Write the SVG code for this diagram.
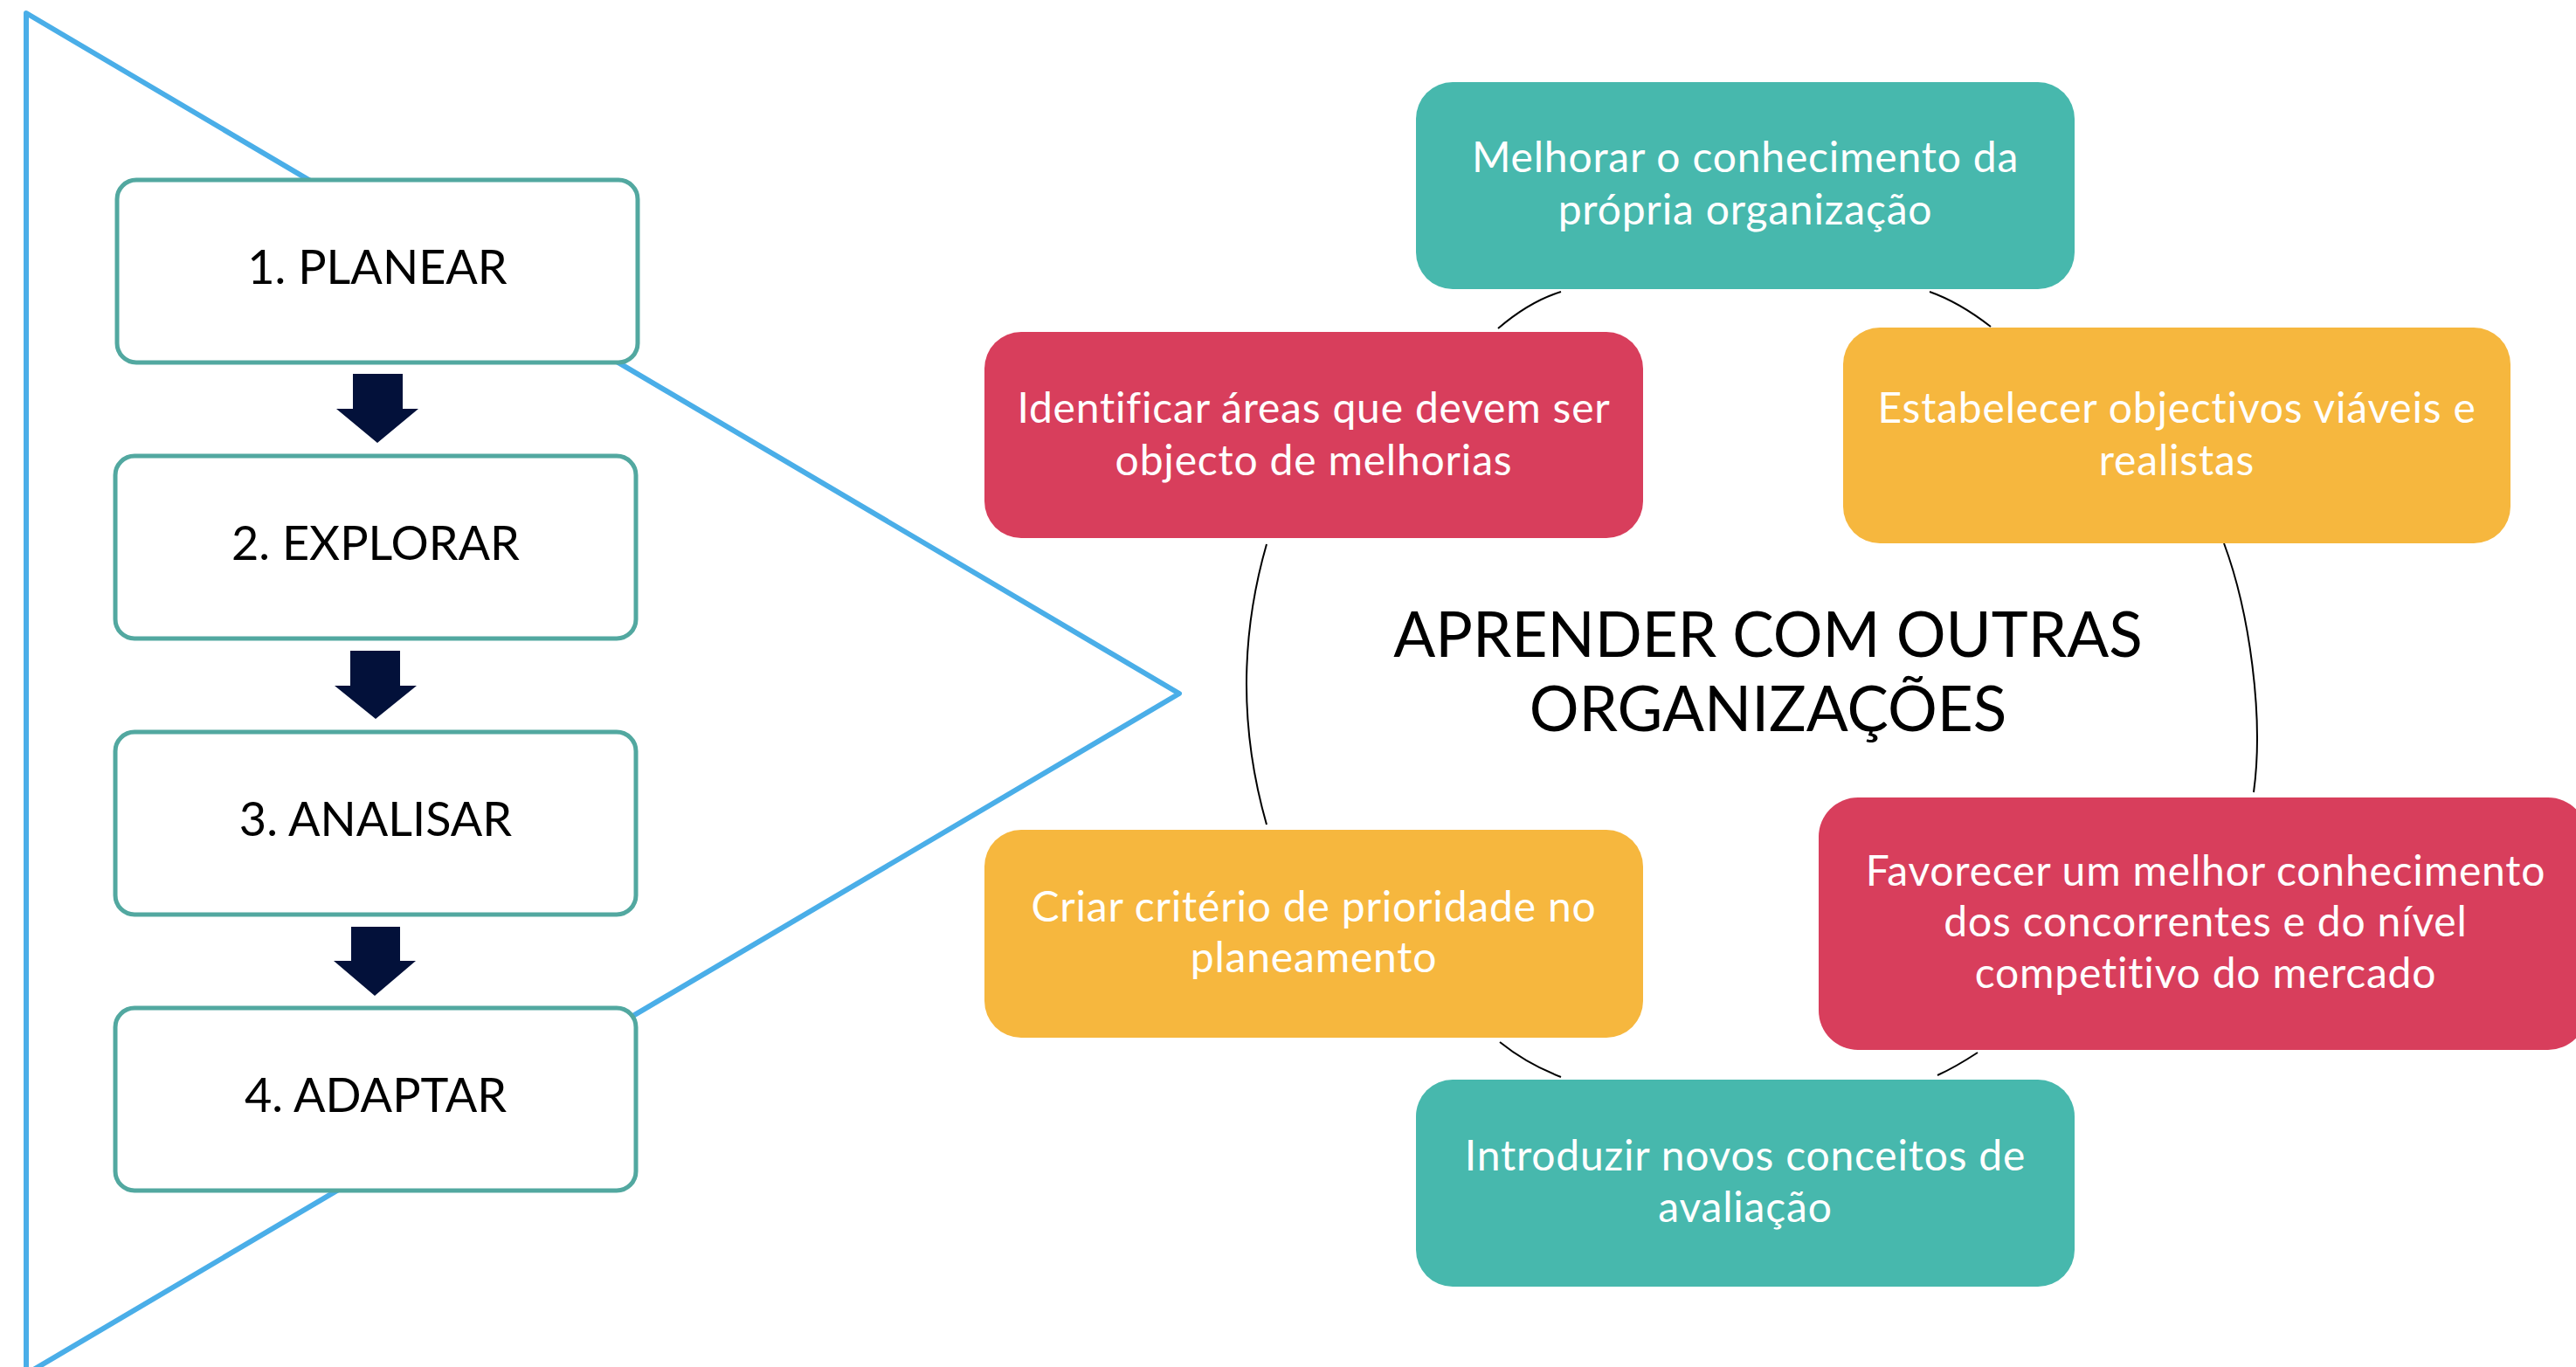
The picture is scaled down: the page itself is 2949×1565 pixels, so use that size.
<svg xmlns="http://www.w3.org/2000/svg" width="2949" height="1565" viewBox="0 0 2949 1565">
<style>
.step{fill:#ffffff;stroke:#52A8A0;stroke-width:5}
.stepText{font-family:Lato,"Noto Sans",sans-serif;font-size:54px;fill:#000000;text-anchor:middle}
.arrow{fill:#03113A}
.node{font-family:Lato,"Noto Sans",sans-serif;font-size:48px;letter-spacing:0.8px;fill:#ffffff;text-anchor:middle}
.teal{fill:#47B8AD}
.red{fill:#D83E5C}
.orange{fill:#F6B73E}
.conn{fill:none;stroke:#000000;stroke-width:2}
.title{font-family:Lato,"Noto Sans",sans-serif;font-size:71px;fill:#000000;text-anchor:middle}
</style>
<rect width="2949" height="1565" fill="#ffffff"/>
<g id="funnel">
<polygon points="30,15 1350,794 30,1573" fill="none" stroke="#4AAEE8" stroke-width="6" stroke-linejoin="round"/>
</g>
<g id="step1">
<rect class="step" x="134" y="206" width="596" height="209" rx="22"/>
<text class="stepText" x="432" y="325">1. PLANEAR</text>
</g>
<g id="step2">
<rect class="step" x="132" y="522" width="596" height="209" rx="22"/>
<text class="stepText" x="430" y="641">2. EXPLORAR</text>
</g>
<g id="step3">
<rect class="step" x="132" y="838" width="596" height="209" rx="22"/>
<text class="stepText" x="430" y="957">3. ANALISAR</text>
</g>
<g id="step4">
<rect class="step" x="132" y="1154" width="596" height="209" rx="22"/>
<text class="stepText" x="430" y="1273">4. ADAPTAR</text>
</g>
<g id="arrows">
<polygon class="arrow" points="404,428 461,428 461,468 479,468 432,507 385,468 404,468"/>
<polygon class="arrow" points="401,745 458,745 458,785 477,785 430,823 383,785 401,785"/>
<polygon class="arrow" points="402,1061 458,1061 458,1100 476,1100 429,1140 382,1100 402,1100"/>
</g>
<g id="connectors">
<path class="conn" d="M1787,334 Q1751,345 1715,376"/>
<path class="conn" d="M2209,334 Q2243,346 2279,374"/>
<path class="conn" d="M1450,623 Q1404,783 1450,944"/>
<path class="conn" d="M2546,622 C2575,700 2592,820 2580,907"/>
<path class="conn" d="M1717,1193 Q1748,1218 1787,1233"/>
<path class="conn" d="M2264,1205 Q2238,1222 2218,1231"/>
</g>
<g id="title">
<text class="title" x="2024" y="752">APRENDER COM OUTRAS</text>
<text class="title" x="2024" y="837">ORGANIZAÇÕES</text>
</g>
<g id="node-melhorar">
<rect class="teal" x="1621" y="94" width="754" height="237" rx="42"/>
<text class="node" x="1998" y="197">Melhorar o conhecimento da</text>
<text class="node" x="1998" y="257">própria organização</text>
</g>
<g id="node-identificar">
<rect class="red" x="1127" y="380" width="754" height="236" rx="42"/>
<text class="node" x="1504" y="484">Identificar áreas que devem ser</text>
<text class="node" x="1504" y="544">objecto de melhorias</text>
</g>
<g id="node-estabelecer">
<rect class="orange" x="2110" y="375" width="764" height="247" rx="42"/>
<text class="node" x="2492" y="484">Estabelecer objectivos viáveis e</text>
<text class="node" x="2492" y="544">realistas</text>
</g>
<g id="node-favorecer">
<rect class="red" x="2082" y="913" width="880" height="289" rx="45"/>
<text class="node" x="2525" y="1014">Favorecer um melhor conhecimento</text>
<text class="node" x="2525" y="1072">dos concorrentes e do nível</text>
<text class="node" x="2525" y="1131">competitivo do mercado</text>
</g>
<g id="node-criar">
<rect class="orange" x="1127" y="950" width="754" height="238" rx="42"/>
<text class="node" x="1504" y="1055">Criar critério de prioridade no</text>
<text class="node" x="1504" y="1113">planeamento</text>
</g>
<g id="node-introduzir">
<rect class="teal" x="1621" y="1236" width="754" height="237" rx="42"/>
<text class="node" x="1998" y="1340">Introduzir novos conceitos de</text>
<text class="node" x="1998" y="1399">avaliação</text>
</g>
</svg>
